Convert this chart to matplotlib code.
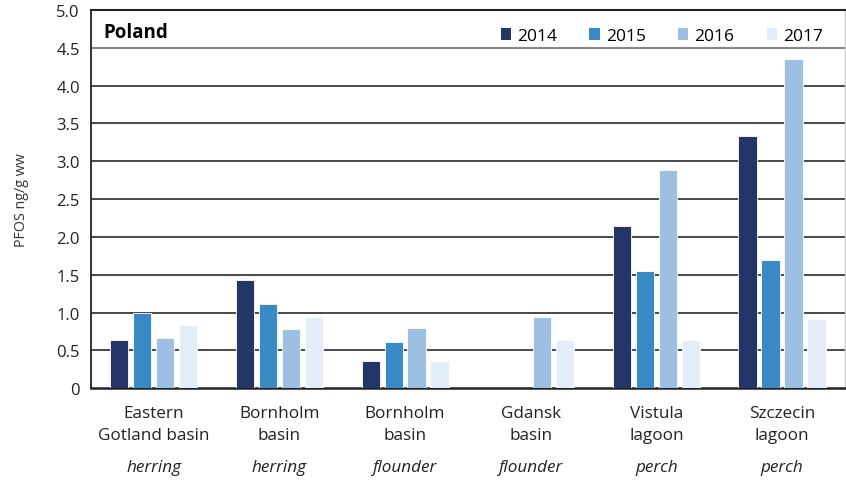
import numpy as np
import matplotlib.pyplot as plt
from matplotlib.patches import Patch

plt.rcParams["font.family"] = ["Open Sans", "DejaVu Sans"]

# Data (PFOS ng/g ww)
sites = ["Eastern\nGotland basin", "Bornholm\nbasin", "Bornholm\nbasin",
         "Gdansk\nbasin", "Vistula\nlagoon", "Szczecin\nlagoon"]
species = ["herring", "herring", "flounder", "flounder", "perch", "perch"]
years = ["2014", "2015", "2016", "2017"]
v2014 = [0.63, 1.43, 0.36, np.nan, 2.14, 3.33]
v2015 = [1.00, 1.11, 0.61, np.nan, 1.55, 1.69]
v2016 = [0.66, 0.78, 0.80, 0.94, 2.89, 4.35]
v2017 = [0.83, 0.94, 0.36, 0.63, 0.63, 0.91]
colors = ["#243568", "#3a8ac6", "#9dbfe2", "#e2edf8"]

fig = plt.figure(figsize=(8.46, 4.81), dpi=100)
ax = fig.add_axes([0.1076, 0.191, 0.891, 0.786])

x = np.arange(len(sites))
step = 0.183
width = 0.145
for i, (vals, col) in enumerate(zip([v2014, v2015, v2016, v2017], colors)):
    ax.bar(x + (i - 1.5) * step, vals, width=width, color=col,
           edgecolor="white", linewidth=0.6, zorder=3)

# horizontal grid lines
for yv in np.arange(0.5, 4.01, 0.5):
    ax.axhline(yv, color="#2a2a2a", linewidth=1.2, zorder=1)
ax.axhline(4.5, color="#888888", linewidth=1.5, zorder=1)

ax.set_xlim(-0.5, len(sites) - 0.5)
ax.set_ylim(0, 5.0)
ax.set_yticks(np.arange(0, 5.01, 0.5))
ax.set_yticklabels(["0"] + [f"{v:.1f}" for v in np.arange(0.5, 5.01, 0.5)],
                   fontsize=12, color="#222222")
ax.tick_params(axis="y", length=0, pad=8)
ax.set_xticks([])

for side in ["left", "top", "bottom"]:
    ax.spines[side].set_color("#222222")
ax.spines["left"].set_linewidth(1.3)
ax.spines["top"].set_linewidth(1.5)
ax.spines["bottom"].set_linewidth(1.8)
ax.spines["right"].set_color("#cccccc")
ax.spines["right"].set_linewidth(1.0)

ax.set_ylabel("PFOS ng/g ww", fontsize=10.3, color="#333333", labelpad=20)

# category labels under the axis
for xi, site, sp in zip(x, sites, species):
    ax.annotate(site, xy=(xi, 0), xycoords=("data", "axes fraction"),
                xytext=(0, -12), textcoords="offset points",
                ha="center", va="top", fontsize=12.3, color="#222222",
                linespacing=1.5)
    ax.annotate(sp, xy=(xi, 0), xycoords=("data", "axes fraction"),
                xytext=(0, -57), textcoords="offset points",
                ha="center", va="center", fontsize=12.3, style="italic",
                color="#222222")

ax.text(0.016, 0.942, "Poland", transform=ax.transAxes, fontsize=13.5,
        fontweight="bold", ha="left", va="center")

handles = [Patch(facecolor=c, edgecolor="none") for c in colors]
ax.legend(handles, years, loc="center right", bbox_to_anchor=(0.971, 0.932),
          ncol=4, frameon=False, fontsize=12.5, handlelength=0.6,
          handleheight=0.7, handletextpad=0.35, columnspacing=1.85,
          borderaxespad=0, borderpad=0)

fig.savefig("out.png", dpi=100)
